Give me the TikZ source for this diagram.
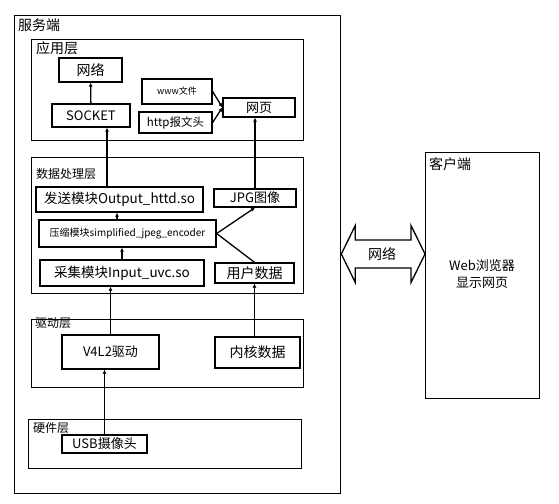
\documentclass[tikz,border=0pt]{standalone}
\usepackage{fontspec}
\setmainfont{Noto Sans CJK SC}
\usetikzlibrary{positioning, arrows.meta, calc}

\begin{document}
\begin{tikzpicture}[
        x=1pt, y=-1pt,
        box/.style={draw, line width=1.3pt, inner sep=0pt, align=center,
                    font=\fontsize{13}{15}\selectfont},
        layer/.style={draw, line width=1.3pt, inner sep=0pt, anchor=north west},
        title/.style={anchor=north west, inner sep=0pt, font=\fontsize{12}{14}\selectfont},
        arrow/.style={-{Latex[length=4pt, width=4pt]}, line width=1.3pt},
    ]
    \useasboundingbox (0,0) rectangle (559,503);

    % server side and its layers
    \node[layer, minimum width=326pt, minimum height=478pt] (server) at (14,15) {};
    \node[title, font=\fontsize{14}{16}\selectfont] (servertitle) at (18,19) {服务端};

    \node[layer, minimum width=272pt, minimum height=101pt] (app) at (31,39) {};
    \node[title, font=\fontsize{14}{16}\selectfont] (apptitle) at (36,41) {应用层};

    \node[layer, minimum width=272pt, minimum height=136pt] (data) at (31,157) {};
    \node[title] (datatitle) at (36,168) {数据处理层};

    \node[layer, minimum width=272pt, minimum height=68pt] (drv) at (31,319) {};
    \node[title] (drvtitle) at (35,317) {驱动层};

    \node[layer, minimum width=273pt, minimum height=49pt] (hw) at (28,419) {};
    \node[title] (hwtitle) at (33,422) {硬件层};

    % client side
    \node[layer, minimum width=114pt, minimum height=246pt] (client) at (425,152) {};
    \node[title, font=\fontsize{14}{16}\selectfont] (clienttitle) at (429,157) {客户端};
    \node[align=center, inner sep=0pt, font=\fontsize{13}{17}\selectfont] (browser)
        at (482,274) {Web浏览器\\显示网页};

    % application layer
    \node[box, minimum width=63pt, minimum height=24pt, font=\fontsize{14}{16}\selectfont] (net) at (90.5,70) {网络};
    \node[box, minimum width=78pt, minimum height=23pt] (socket) at (91,115.5) {SOCKET};
    \node[box, minimum width=70pt, minimum height=25pt, font=\fontsize{9}{11}\selectfont] (www) at (177,91.5) {www文件};
    \node[box, minimum width=73pt, minimum height=21pt, font=\fontsize{11.5}{13}\selectfont] (http) at (175.5,122.5) {http报文头};
    \node[box, minimum width=72pt, minimum height=19pt] (page) at (259,107.5) {网页};

    % data processing layer
    \node[box, minimum width=167pt, minimum height=25pt, font=\fontsize{13.5}{15}\selectfont] (send) at (119.5,199.5) {发送模块Output\_httd.so};
    \node[box, minimum width=82pt, minimum height=18pt] (jpg) at (255,198) {JPG图像};
    \node[box, minimum width=177pt, minimum height=27pt, font=\fontsize{10}{12}\selectfont] (enc) at (127.5,233.5) {压缩模块simplified\_jpeg\_encoder};
    \node[box, minimum width=164pt, minimum height=26pt, font=\fontsize{13.5}{15}\selectfont] (cap) at (122,273) {采集模块Input\_uvc.so};
    \node[box, minimum width=79pt, minimum height=20pt, font=\fontsize{14}{16}\selectfont] (user) at (254.5,273) {用户数据};

    % driver and hardware layers
    \node[box, minimum width=97pt, minimum height=34pt] (v4l2) at (110.5,352) {V4L2驱动};
    \node[box, minimum width=85pt, minimum height=31pt, font=\fontsize{14}{16}\selectfont] (kern) at (257.5,352.5) {内核数据};
    \node[box, minimum width=85pt, minimum height=18pt] (usb) at (104.5,444) {USB摄像头};

    % connectors
    \coordinate (sendtop) at ([xshift=-12.5pt]send.north);
    \coordinate (enctop) at ([xshift=-10.5pt]enc.north);

    \draw[arrow] (socket) -- (net);
    \draw[arrow] (www.east) -- (page.west);
    \draw[arrow] (http.east) -- (page.west);
    \draw[arrow] (sendtop) -- (sendtop |- socket.south);
    \draw[arrow] (jpg.north) -- (jpg.north |- page.south);
    \draw[arrow] (enctop) -- (enctop |- send.south);
    \draw[arrow] (cap.north) -- (cap.north |- enc.south);
    \draw[arrow] (enc.east) -- (jpg.south);
    \draw[line width=1.3pt] (user.north) -- (enc.east);
    \draw[arrow] (v4l2.north) -- (v4l2.north |- cap.south);
    \draw[arrow] (user.south |- kern.north) -- (user.south);
    \draw[arrow] (usb.north) -- (usb.north |- v4l2.south);

    % network link between server and client
    \coordinate (netmid) at (382,254);
    \coordinate (netL) at (server.east |- netmid);
    \coordinate (netR) at (client.west |- netmid);
    \draw[line width=1.3pt, line join=miter]
        (netL) -- ($(netL)+(14,-28.5)$) -- ($(netL)+(14,-14)$)
        -- ($(netR)+(-14,-14)$) -- ($(netR)+(-14,-28.5)$) -- (netR)
        -- ($(netR)+(-14,28.5)$) -- ($(netR)+(-14,14)$)
        -- ($(netL)+(14,14)$) -- ($(netL)+(14,28.5)$) -- cycle;
    \node[inner sep=0pt, font=\fontsize{14}{16}\selectfont] (netlabel) at (netmid) {网络};
\end{tikzpicture}
\end{document}
